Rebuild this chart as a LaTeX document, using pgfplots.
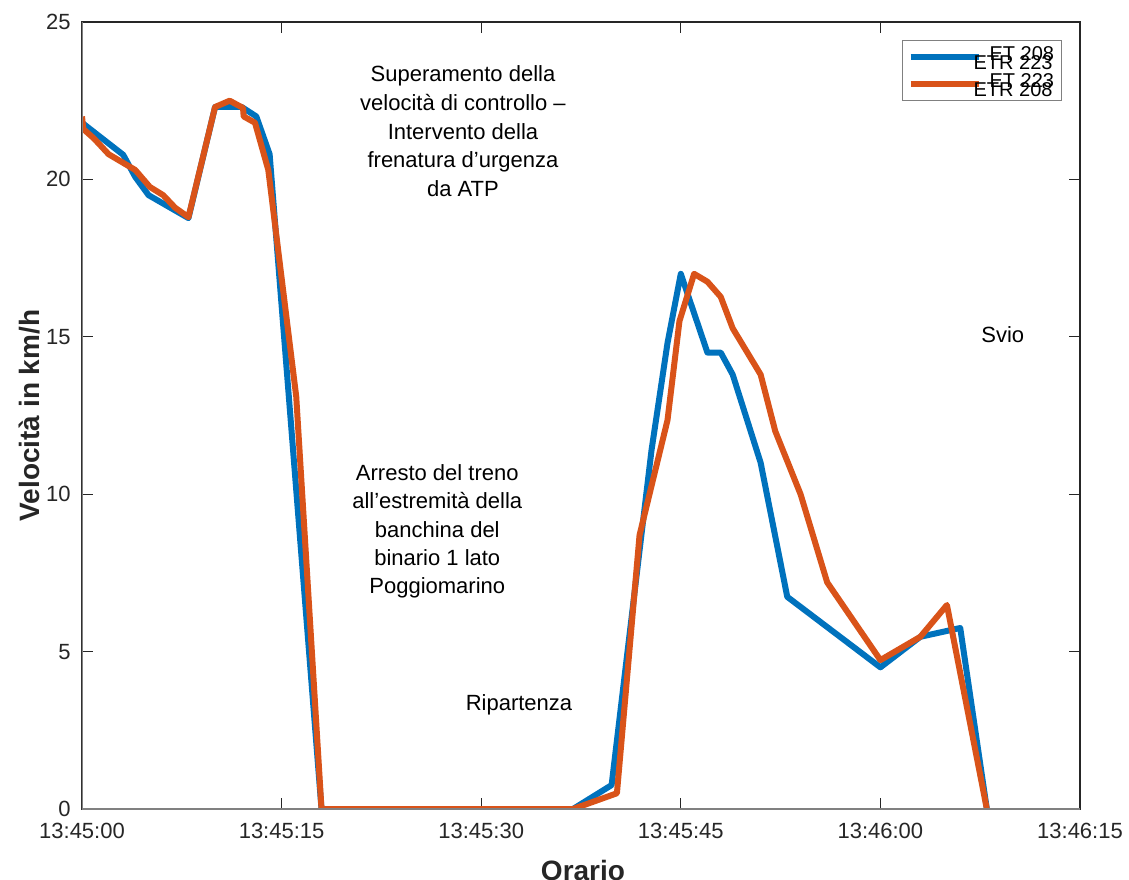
\documentclass[border=0pt]{standalone}
\usepackage{fontspec}
\setmainfont{Liberation Sans}
\usepackage{pgfplots}
\usepackage{pgfplotstable}
\pgfplotsset{compat=1.18}
\definecolor{mblue}{HTML}{0072BD}
\definecolor{morange}{HTML}{D95319}
\definecolor{axgray}{HTML}{262626}
\definecolor{axlight}{HTML}{808080}

% seconds after 13:45:00, speed in km/h
\pgfplotstableread{
t v
0 21.8
3.1 20.78
4 20.08
5 19.5
8 18.77
10 22.3
11 22.3
12 22.3
13.1 22.0
14.1 20.8
18 0
36.9 0
39.8 0.76
42.8 11.4
44 14.8
45 17.0
47 14.5
48 14.5
48.9 13.8
51 11.0
53 6.74
60 4.5
63 5.47
66 5.75
68 0
}\etbluedata

\pgfplotstableread{
t v
0 22.0
0.1 21.6
0.9 21.3
2 20.8
4 20.3
5.1 19.76
6.1 19.5
7 19.1
8 18.8
10 22.3
11.1 22.5
12.1 22.27
12.15 22.0
13 21.8
14 20.3
16.1 13.1
18 0
36.9 0
40.2 0.5
41.9 8.7
44 12.35
44.9 15.5
46 17.0
47 16.75
48 16.27
48.9 15.27
51 13.8
52.1 12.0
54 10.0
56 7.2
60 4.73
63 5.47
65 6.48
68 0
}\etorangedata

% two legend texts drawn on top of each other
\newcommand{\twolabels}[2]{\hspace*{-6pt}\rlap{\raisebox{2pt}{\hspace{8pt}#1}}\raisebox{-2.5pt}{#2}}

\begin{document}
\begin{tikzpicture}
\useasboundingbox (-41pt,-35pt) rectangle (523.5pt,404.5pt);
\begin{axis}[
  at={(0,0)}, anchor=south west,
  scale only axis,
  width=499pt, height=393.5pt,
  xmin=0, xmax=75, ymin=0, ymax=25,
  xtick={0,15,30,45,60,75},
  xticklabels={13:45:00,13:45:15,13:45:30,13:45:45,13:46:00,13:46:15},
  ytick={0,5,10,15,20,25},
  tick align=inside,
  tick pos=both,
  major tick length=5.5pt,
  tick style={axgray, line width=0.5pt},
  axis line style={axgray, line width=0.6pt},
  /pgf/number format/assume math mode=true,
  tick label style={font=\fontsize{11}{13}\selectfont, text=axgray},
  xticklabel style={inner sep=0pt, yshift=-7pt},
  yticklabel style={inner sep=0pt, xshift=-5.5pt},
  xlabel={Orario},
  ylabel={Velocità in km/h},
  label style={font=\bfseries\fontsize{14}{16}\selectfont, text=axgray},
  xlabel style={at={(axis description cs:0.502,-0.0785)}, anchor=center},
  ylabel style={at={(axis description cs:-0.0521,0.5)}, anchor=center},
  legend style={at={(axis description cs:0.982,0.977)}, anchor=north east,
    draw=axlight, line width=0.5pt, font=\fontsize{10}{12}\selectfont,
    inner xsep=2.5pt, inner ysep=1pt, row sep=-1pt},
  legend cell align=left,
  legend image code/.code={\draw[#1, line width=3pt] (0pt,0pt) -- (34pt,0pt);},
]
\addplot[mblue, line width=3pt, line join=round] table[x=t, y=v] {\etbluedata};
\addlegendentry{\twolabels{ET 208}{ETR 223}}
\addplot[morange, line width=3pt, line join=round] table[x=t, y=v] {\etorangedata};
\addlegendentry{\twolabels{ET 223}{ETR 208}}

\draw[axlight, line width=0.6pt] (rel axis cs:0,1) -- (rel axis cs:0,0) -- (rel axis cs:1,0);

\node[align=center, anchor=north, inner sep=0pt, font=\fontsize{11}{14.4}\selectfont]
  at (axis cs:28.63,23.63) {Superamento della\\velocità di controllo --\\Intervento della\\frenatura d’urgenza\\da ATP};
\node[align=center, anchor=north, inner sep=0pt, font=\fontsize{11}{14.2}\selectfont]
  at (axis cs:26.7,10.96) {Arresto del treno\\all’estremità della\\banchina del\\binario 1 lato\\Poggiomarino};
\node[font=\fontsize{11}{13}\selectfont] at (axis cs:69.2,15.06) {Svio};
\node[font=\fontsize{11}{13}\selectfont] at (axis cs:32.84,3.30) {Ripartenza};
\end{axis}
\end{tikzpicture}
\end{document}
